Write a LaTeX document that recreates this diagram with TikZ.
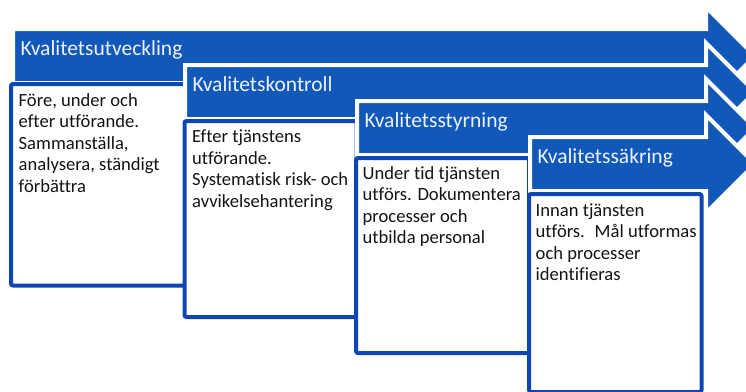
\documentclass[tikz,border=0pt]{standalone}
\usepackage{fontspec}
\setmainfont[Ligatures=NoCommon]{Carlito}
\definecolor{arrowblue}{RGB}{18,88,184}
\definecolor{boxblue}{RGB}{14,70,180}
\definecolor{labelwhite}{RGB}{236,242,255}
\tikzset{
  band/.style={fill=arrowblue, draw=white, line width=4pt, line join=miter},
  panel/.style={draw=boxblue, fill=white, line width=4pt, rounded corners=2pt,
    outer sep=0pt, inner sep=0pt, anchor=north west},
  bandlabel/.style={text=labelwhite, font=\fontsize{21.5}{25}\selectfont,
    anchor=base west, inner sep=0pt},
  paneltext/.style={text=black!92, font=\fontsize{18.6}{21.5}\selectfont,
    anchor=north west, inner sep=0pt, align=left},
}
% one stacked arrow: #1 = left edge, #2 = top edge of the blue band
\newcommand\qband[2]{%
  \draw[band] (#1-2,#2-2) -- (706,#2-2) -- (706,#2-24) -- (755,#2+25)
    -- (706,#2+74) -- (706,#2+52) -- (#1-2,#2+52) -- cycle;}
\begin{document}
\begin{tikzpicture}[x=1pt,y=-1pt]
\clip (0,0) rectangle (746,391);
\fill[white] (0,0) rectangle (746,391);

% stage 1
\qband{15}{31}
\node[bandlabel] (l1) at (20.5,55) {Kvalitetsutveckling};
\node[panel, minimum width=174pt, minimum height=201.5pt] (p1) at (11,84) {};
\node[paneltext] (t1) at ([shift={(7.5,9)}]p1.north west)
  {Före, under och\\efter utförande.\\Sammanställa,\\analysera, ständigt\\förbättra};

% stage 2
\qband{187}{67}
\node[bandlabel] (l2) at (192.5,91) {Kvalitetskontroll};
\node[panel, minimum width=172pt, minimum height=196pt] (p2) at (184.5,121) {};
\node[paneltext] (t2) at ([shift={(7.5,8.5)}]p2.north west)
  {Efter tjänstens\\utförande.\\Systematisk risk- och\\avvikelsehantering};

% stage 3
\qband{359}{103}
\node[bandlabel] (l3) at (364.5,127) {Kvalitetsstyrning};
\node[panel, minimum width=173pt, minimum height=195pt] (p3) at (356,158) {};
\node[paneltext] (t3) at ([shift={(6.5,8)}]p3.north west)
  {Under tid tjänsten\\utförs. Dokumentera\\processer och\\utbilda personal};

% stage 4
\qband{532}{139}
\node[bandlabel] (l4) at (537.5,163) {Kvalitetssäkring};
\node[panel, minimum width=172.5pt, minimum height=198pt] (p4) at (529,194) {};
\node[paneltext] (t4) at ([shift={(6.5,9)}]p4.north west)
  {Innan tjänsten\\utförs.~ Mål utformas\\och processer\\identifieras};
\end{tikzpicture}
\end{document}
